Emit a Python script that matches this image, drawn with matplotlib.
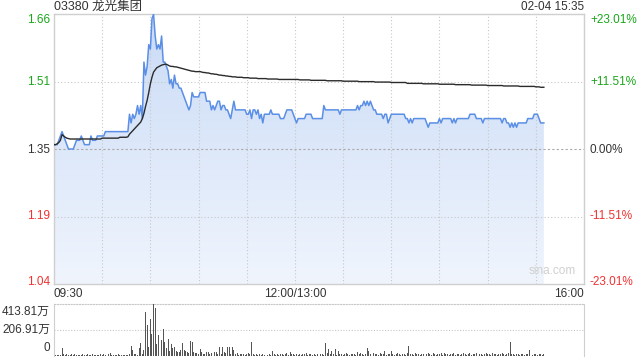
import matplotlib
matplotlib.use("Agg")
import matplotlib.pyplot as plt
import numpy as np
from matplotlib.colors import LinearSegmentedColormap

plt.rcParams['font.family'] = ['Liberation Sans', 'Noto Sans CJK SC', 'DejaVu Sans']

title = "03380 龙光集团"
stamp = "02-04 15:35"
prev_close = 1.35
y_top = 1.6606
y_bot = 1.0394
price_ticks = [1.6606, 1.5053, 1.35, 1.1947, 1.0394]
price_labels = ["1.66", "1.51", "1.35", "1.19", "1.04"]
pct_labels = ["+23.01%", "+11.51%", "0.00%", "-11.51%", "-23.01%"]
time_ticks = [0, 150, 330]
time_labels = ["09:30", "12:00/13:00", "16:00"]
vol_max = 413.81
vol_ticks = [0, 206.91, 413.81]
vol_labels = ["0", "206.91万", "413.81万"]

price = [
    1.36,1.36,1.36,1.37,1.38,1.39,1.38,1.37,1.36,1.35,
    1.35,1.35,1.35,1.36,1.37,1.37,1.37,1.38,1.37,1.36,
    1.36,1.36,1.36,1.38,1.37,1.37,1.37,1.38,1.38,1.38,
    1.38,1.38,1.39,1.39,1.39,1.39,1.39,1.39,1.39,1.39,
    1.39,1.39,1.39,1.39,1.39,1.39,1.39,1.43,1.41,1.43,
    1.42,1.43,1.45,1.43,1.45,1.42,1.55,1.52,1.54,1.59,
    1.58,1.65,1.66,1.61,1.58,1.59,1.58,1.61,1.55,1.55,
    1.54,1.53,1.50,1.51,1.49,1.52,1.50,1.50,1.49,1.49,
    1.48,1.47,1.46,1.45,1.44,1.45,1.48,1.47,1.47,1.47,
    1.47,1.48,1.48,1.48,1.48,1.46,1.46,1.46,1.44,1.45,
    1.44,1.45,1.46,1.46,1.44,1.45,1.45,1.44,1.44,1.43,
    1.42,1.44,1.46,1.44,1.44,1.44,1.44,1.44,1.44,1.44,
    1.43,1.43,1.44,1.42,1.44,1.44,1.43,1.44,1.42,1.43,
    1.41,1.43,1.43,1.43,1.43,1.44,1.43,1.43,1.43,1.43,
    1.43,1.42,1.42,1.42,1.43,1.44,1.44,1.44,1.44,1.43,
    1.42,1.41,1.42,1.42,1.42,1.42,1.42,1.43,1.43,1.43,
    1.43,1.42,1.42,1.42,1.42,1.42,1.42,1.42,1.45,1.44,
    1.44,1.44,1.44,1.44,1.44,1.44,1.44,1.44,1.43,1.44,
    1.44,1.44,1.44,1.44,1.44,1.44,1.44,1.44,1.44,1.45,
    1.44,1.45,1.45,1.46,1.45,1.46,1.45,1.46,1.45,1.44,
    1.44,1.43,1.43,1.43,1.43,1.42,1.43,1.43,1.41,1.42,
    1.43,1.43,1.43,1.43,1.43,1.43,1.43,1.43,1.43,1.42,
    1.42,1.41,1.42,1.41,1.42,1.42,1.42,1.42,1.42,1.42,
    1.42,1.42,1.41,1.40,1.41,1.41,1.41,1.41,1.41,1.41,
    1.42,1.41,1.42,1.42,1.42,1.42,1.42,1.42,1.41,1.42,
    1.41,1.42,1.42,1.42,1.42,1.42,1.42,1.42,1.42,1.43,
    1.43,1.43,1.43,1.42,1.42,1.42,1.42,1.41,1.42,1.42,
    1.42,1.42,1.42,1.42,1.42,1.42,1.42,1.42,1.42,1.41,
    1.42,1.42,1.41,1.41,1.40,1.41,1.40,1.41,1.40,1.41,
    1.41,1.41,1.41,1.41,1.41,1.42,1.42,1.42,1.42,1.43,
    1.43,1.43,1.42,1.41,1.41,1.41,
]

avg_price = [
    1.360,1.360,1.362,1.365,1.370,1.383,1.380,1.377,1.375,1.374,
    1.373,1.373,1.373,1.373,1.373,1.373,1.373,1.373,1.373,1.373,
    1.373,1.373,1.373,1.373,1.373,1.373,1.373,1.373,1.373,1.373,
    1.375,1.375,1.375,1.375,1.375,1.375,1.375,1.375,1.375,1.375,
    1.375,1.377,1.377,1.377,1.377,1.377,1.378,1.384,1.388,1.392,
    1.396,1.400,1.404,1.408,1.412,1.420,1.432,1.448,1.462,1.480,
    1.500,1.515,1.527,1.532,1.537,1.539,1.541,1.543,1.544,1.545,
    1.545,1.543,1.541,1.540,1.540,1.539,1.539,1.538,1.537,1.536,
    1.535,1.534,1.533,1.532,1.531,1.530,1.529,1.529,1.528,1.528,
    1.528,1.528,1.527,1.526,1.526,1.525,1.525,1.524,1.523,1.523,
    1.522,1.522,1.521,1.520,1.520,1.519,1.519,1.518,1.518,1.517,
    1.517,1.516,1.516,1.516,1.515,1.515,1.515,1.515,1.514,1.514,
    1.514,1.514,1.513,1.513,1.513,1.513,1.513,1.512,1.512,1.512,
    1.512,1.512,1.512,1.511,1.511,1.511,1.511,1.511,1.511,1.511,
    1.510,1.510,1.510,1.510,1.510,1.510,1.510,1.510,1.510,1.510,
    1.510,1.510,1.510,1.509,1.509,1.509,1.509,1.509,1.509,1.509,
    1.508,1.508,1.508,1.508,1.508,1.508,1.508,1.508,1.508,1.508,
    1.507,1.507,1.507,1.507,1.507,1.507,1.507,1.507,1.507,1.507,
    1.506,1.506,1.506,1.506,1.506,1.506,1.506,1.506,1.506,1.506,
    1.505,1.505,1.505,1.505,1.505,1.505,1.505,1.505,1.505,1.505,
    1.504,1.504,1.504,1.504,1.504,1.504,1.504,1.504,1.504,1.504,
    1.503,1.503,1.503,1.503,1.503,1.503,1.503,1.503,1.503,1.503,
    1.501,1.501,1.501,1.501,1.501,1.501,1.501,1.501,1.501,1.501,
    1.500,1.500,1.500,1.500,1.500,1.500,1.500,1.500,1.500,1.500,
    1.499,1.499,1.499,1.499,1.499,1.499,1.499,1.499,1.499,1.499,
    1.498,1.498,1.498,1.498,1.498,1.498,1.498,1.498,1.498,1.498,
    1.497,1.497,1.497,1.497,1.497,1.497,1.497,1.497,1.497,1.497,
    1.496,1.496,1.496,1.496,1.496,1.496,1.496,1.496,1.496,1.496,
    1.495,1.495,1.495,1.495,1.495,1.495,1.495,1.495,1.495,1.495,
    1.494,1.494,1.494,1.494,1.494,1.494,1.494,1.494,1.494,1.494,
    1.493,1.493,1.493,1.492,1.492,1.492,
]

volume = [
    12,10,9,8,10,63,12,9,14,10,
    8,12,9,14,10,8,11,9,13,10,
    9,12,8,10,14,9,11,8,10,12,
    9,13,10,8,12,22,9,11,10,8,
    12,9,10,8,11,9,10,14,83,47,
    12,18,10,63,102,14,47,350,248,69,
    295,179,414,381,97,166,97,124,212,110,
    63,138,41,97,63,75,41,28,35,47,
    105,47,41,28,22,119,110,35,20,20,
    14,55,28,14,18,28,35,12,20,119,
    35,28,18,69,14,68,28,20,73,73,
    18,73,46,14,20,10,14,12,18,10,
    14,20,12,109,14,10,12,8,14,10,
    12,10,14,9,12,10,41,12,9,14,
    10,12,18,9,14,20,10,28,12,14,
    10,14,9,12,10,14,12,20,10,12,
    14,10,12,9,14,10,12,14,10,100,
    20,54,12,41,14,54,10,41,12,14,
    10,12,20,14,10,12,18,14,10,28,
    12,20,14,10,12,60,41,12,10,27,
    14,12,10,20,12,14,41,10,12,14,
    41,12,10,14,20,12,10,14,12,10,
    20,82,14,12,10,20,12,14,10,12,
    14,10,12,20,14,10,27,12,10,14,
    12,27,10,20,14,12,10,14,12,20,
    10,12,14,10,12,27,14,10,12,27,
    10,14,12,20,10,12,14,10,12,27,
    14,12,10,20,12,14,10,12,14,27,
    12,10,14,20,109,14,12,10,14,12,
    10,14,12,10,14,12,46,14,10,12,
    14,10,12,14,10,12,
]

minutes = np.arange(len(price))
price = np.array(price)
avg_price = np.array(avg_price)
volume = np.array(volume)

GREEN = "#1aa61a"
RED = "#f03232"
TXT = "#333333"
GRID = "#c8c8c8"
SPINE = "#cfcfcf"
FS = 8.5

fig = plt.figure(figsize=(6.4, 3.6), dpi=100)
ax = fig.add_axes([54/640, 1-284/360, 530/640, 270/360])
axv = fig.add_axes([54/640, 1-356/360, 530/640, 52/360])

# main axes
ax.set_xlim(0, 330)
ax.set_ylim(y_bot, y_top)

fill = ax.fill_between(minutes, price, y_bot, facecolor="none", edgecolor="none")
grad = np.linspace(0, 1, 256).reshape(-1, 1)
cmap = LinearSegmentedColormap.from_list("g", ["#cadbf6", "#f0f5fd"])
im = ax.imshow(grad, extent=[0, 330, y_bot, y_top], aspect="auto", cmap=cmap,
               origin="upper", zorder=1)
im.set_clip_path(fill.get_paths()[0], transform=ax.transData)

ax.plot(minutes, price, color="#5b8fe6", lw=1.1, zorder=3)
ax.plot(minutes, avg_price, color="#2b2b2b", lw=1.0, zorder=4)

ax.set_xticks([])
ax.set_yticks([])
for xv in np.arange(30, 330, 30):
    ax.axvline(xv, color=GRID, lw=0.8, ls=(0, (1, 2)), zorder=2)
for yv in [price_ticks[1], price_ticks[3]]:
    ax.axhline(yv, color=GRID, lw=0.8, ls=(0, (1, 2)), zorder=2)
ax.axhline(prev_close, color="#aaaaaa", lw=0.8, ls=(0, (2, 2)), zorder=2)

for s in ax.spines.values():
    s.set_color(SPINE)
    s.set_linewidth(1.0)

# y labels placed in pixel rows (top/bottom kept inside the frame)
cols = [GREEN, GREEN, TXT, RED, RED]
label_rows = [20, 82, 150, 216, 282]
for lab, pl, c, row in zip(price_labels, pct_labels, cols, label_rows):
    fig.text(50/640, 1-row/360, lab, ha="right", va="center", fontsize=FS, color=c)
    fig.text(590/640, 1-row/360, pl, ha="left", va="center", fontsize=FS, color=c)

# x labels
fig.text(54/640, 1-294/360, time_labels[0], ha="left", va="center", fontsize=FS, color=TXT)
fig.text((54 + 530*time_ticks[1]/330)/640, 1-294/360, time_labels[1], ha="center", va="center", fontsize=FS, color=TXT)
fig.text(584/640, 1-294/360, time_labels[2], ha="right", va="center", fontsize=FS, color=TXT)

fig.text(54/640, 1-7/360, title, ha="left", va="center", fontsize=9, color=TXT)
fig.text(584/640, 1-7/360, stamp, ha="right", va="center", fontsize=FS, color=TXT)
ax.text(0.985, 0.025, "sina.com", transform=ax.transAxes, ha="right", va="bottom",
        fontsize=8.5, color="#d0d0d0", zorder=5)

# volume axes
axv.bar(minutes, volume, width=0.6, color="#555555", zorder=3)
axv.set_xlim(0, 330)
axv.set_ylim(0, vol_max)
axv.set_xticks([])
axv.set_yticks([])
axv.axhline(vol_ticks[1], color=GRID, lw=0.8, ls=(0, (1, 1.5)), zorder=1)
axv.spines["top"].set_linestyle((0, (1, 1.5)))
axv.spines["top"].set_color(GRID)
axv.spines["bottom"].set_visible(False)
for k in ("left", "right"):
    axv.spines[k].set_color(SPINE)
vol_rows = [348, 330, 312]
for lab, row in zip(vol_labels, vol_rows):
    fig.text(50/640, 1-row/360, lab, ha="right", va="center", fontsize=FS, color=TXT)

fig.savefig("out.png", dpi=100)
